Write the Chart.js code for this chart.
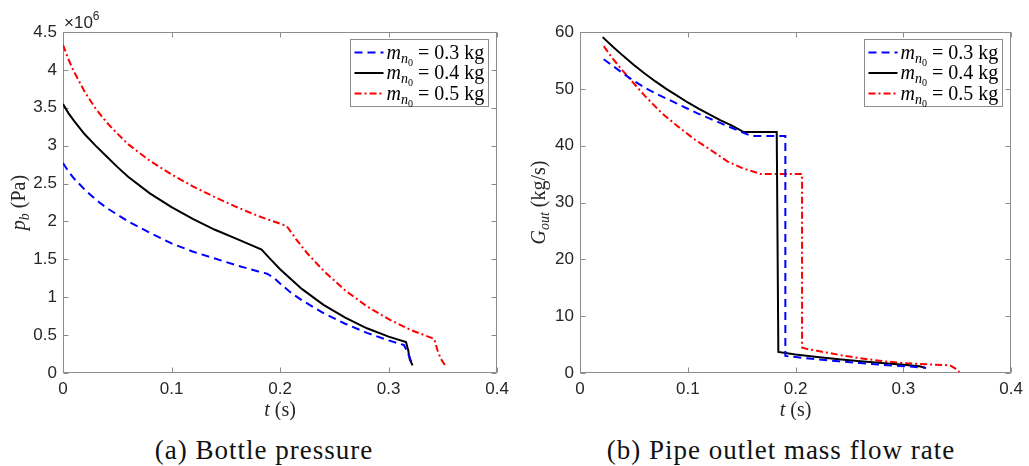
<!DOCTYPE html>
<html>
<head>
<meta charset="utf-8">
<script src="https://cdn.jsdelivr.net/npm/chart.js@4.4.1/dist/chart.umd.min.js"></script>
<style>
  body { margin: 0; background: #fff; width: 1029px; height: 466px; position: relative; overflow: hidden; }
  canvas { position: absolute; top: 0; }
  #c1 { left: 0; }
  #c2 { left: 520px; }
  .cap { position: absolute; top: 435px; line-height: 30px; font-family: "Liberation Serif", "Times New Roman", serif;
         font-size: 27px; letter-spacing: 1px; color: #111; white-space: nowrap; transform: translateX(-50%); }
</style>
</head>
<body>
<canvas id="c1" width="515" height="420"></canvas>
<canvas id="c2" width="509" height="420"></canvas>
<div class="cap" style="left:264px">(a) Bottle pressure</div>
<div class="cap" style="left:781px">(b) Pipe outlet mass flow rate</div>
<script>
// masses in the legend
const masses = ['0.3', '0.4', '0.5'];

// (a) bottle pressure, time (s) and p_b in units of 1e6 Pa
const pT03 = [0, 0.005, 0.01, 0.02, 0.03, 0.04, 0.05, 0.06, 0.08, 0.10, 0.12, 0.14, 0.16, 0.18, 0.188, 0.194, 0.20, 0.21, 0.22, 0.24, 0.26, 0.28, 0.30, 0.314, 0.317, 0.320, 0.323];
const pP03 = [2.77, 2.66, 2.57, 2.42, 2.29, 2.18, 2.09, 2.00, 1.85, 1.71, 1.60, 1.51, 1.42, 1.34, 1.31, 1.26, 1.18, 1.06, 0.96, 0.79, 0.65, 0.53, 0.43, 0.37, 0.29, 0.18, 0.10];

const pT04 = [0, 0.005, 0.01, 0.02, 0.03, 0.04, 0.05, 0.06, 0.08, 0.10, 0.12, 0.14, 0.16, 0.183, 0.19, 0.20, 0.22, 0.24, 0.26, 0.28, 0.30, 0.316, 0.318, 0.3195, 0.322];
const pP04 = [3.55, 3.43, 3.33, 3.15, 3.00, 2.86, 2.72, 2.59, 2.37, 2.19, 2.03, 1.89, 1.77, 1.63, 1.52, 1.37, 1.11, 0.90, 0.73, 0.59, 0.48, 0.41, 0.30, 0.18, 0.10];

const pT05 = [0, 0.005, 0.01, 0.02, 0.03, 0.04, 0.05, 0.06, 0.08, 0.10, 0.12, 0.14, 0.16, 0.18, 0.206, 0.215, 0.225, 0.24, 0.26, 0.28, 0.30, 0.32, 0.342, 0.345, 0.348, 0.352];
const pP05 = [4.33, 4.14, 3.98, 3.71, 3.49, 3.31, 3.16, 3.02, 2.80, 2.62, 2.46, 2.32, 2.19, 2.07, 1.94, 1.76, 1.58, 1.35, 1.09, 0.88, 0.71, 0.57, 0.45, 0.30, 0.19, 0.10];

// (b) pipe outlet mass flow rate G_out (kg/s)
const gT03 = [0.022, 0.03, 0.04, 0.05, 0.06, 0.07, 0.08, 0.09, 0.10, 0.11, 0.12, 0.13, 0.14, 0.15, 0.159, 0.1905, 0.1905, 0.20, 0.22, 0.24, 0.26, 0.28, 0.30, 0.32];
const gG03 = [55.2, 54.1, 52.7, 51.4, 50.2, 49.2, 48.3, 47.4, 46.5, 45.6, 44.8, 44.0, 43.2, 42.4, 41.7, 41.7, 3.0, 2.8, 2.4, 2.05, 1.75, 1.45, 1.2, 0.95];

const gT04 = [0.021, 0.03, 0.04, 0.05, 0.06, 0.07, 0.08, 0.09, 0.10, 0.11, 0.12, 0.13, 0.14, 0.152, 0.1825, 0.184, 0.20, 0.22, 0.24, 0.26, 0.28, 0.30, 0.315, 0.321];
const gG04 = [59.1, 57.5, 55.8, 54.2, 52.7, 51.3, 50.0, 48.8, 47.6, 46.5, 45.5, 44.5, 43.6, 42.4, 42.4, 3.7, 3.25, 2.8, 2.4, 2.05, 1.75, 1.45, 1.2, 0.85];

const gT05 = [0.022, 0.03, 0.04, 0.046, 0.06, 0.076, 0.09, 0.107, 0.12, 0.137, 0.15, 0.168, 0.206, 0.206, 0.21, 0.22, 0.23, 0.24, 0.25, 0.26, 0.28, 0.30, 0.32, 0.343, 0.348, 0.352];
const gG05 = [57.5, 55.4, 53.1, 51.8, 48.8, 45.7, 43.5, 41.0, 39.4, 37.2, 36.1, 35.0, 35.0, 4.5, 4.25, 3.9, 3.55, 3.2, 2.9, 2.6, 2.1, 1.75, 1.55, 1.35, 0.8, 0.2];

const colors = ['#0000ff', '#000000', '#ff0000'];
const dashes = [[8, 5], [], [7, 3, 2, 3]];

const serif = '"Liberation Serif", "Times New Roman", serif';
const sans = '"Liberation Sans", Arial, Helvetica, sans-serif';

function pts(t, v) {
  return t.map((x, i) => ({ x: x, y: v[i] }));
}

// text with sub/superscripts: parts = [text, font, dy]
function rich(ctx, parts, x, y, align) {
  let w = 0;
  parts.forEach(p => { ctx.font = p[1]; w += ctx.measureText(p[0]).width; });
  let cx = align === 'center' ? x - w / 2 : x;
  ctx.textAlign = 'left';
  ctx.textBaseline = 'alphabetic';
  parts.forEach(p => {
    ctx.font = p[1];
    ctx.fillText(p[0], cx, y + (p[2] || 0));
    cx += ctx.measureText(p[0]).width;
  });
}

// box with inner ticks on all four sides
const frame = {
  id: 'frame',
  beforeDatasetsDraw(chart) {
    const { ctx, chartArea: a, scales } = chart;
    const L = Math.round(a.left) + 0.5, R = Math.round(a.right) - 0.5;
    const T = Math.round(a.top) + 0.5, B = Math.round(a.bottom) - 0.5;
    ctx.save();
    ctx.strokeStyle = '#8c8c8c';
    ctx.lineWidth = 1;
    ctx.strokeRect(L, T, R - L, B - T);
    ctx.beginPath();
    scales.x.ticks.forEach(t => {
      const px = Math.round(scales.x.getPixelForValue(t.value)) + 0.5;
      ctx.moveTo(px, B); ctx.lineTo(px, B - 5);
      ctx.moveTo(px, T); ctx.lineTo(px, T + 5);
    });
    scales.y.ticks.forEach(t => {
      const py = Math.round(scales.y.getPixelForValue(t.value)) + 0.5;
      ctx.moveTo(L, py); ctx.lineTo(L + 5, py);
      ctx.moveTo(R, py); ctx.lineTo(R - 5, py);
    });
    ctx.stroke();
    ctx.restore();
  }
};

// axis titles, exponent and legend
const extras = {
  id: 'extras',
  afterDraw(chart, args, opts) {
    const { ctx, chartArea: a } = chart;
    ctx.save();
    ctx.fillStyle = '#262626';
    rich(ctx, [['t', 'italic 20px ' + serif], [' (s)', '20px ' + serif]], (a.left + a.right) / 2, 416, 'center');
    ctx.save();
    ctx.translate(25, (a.top + a.bottom) / 2);
    ctx.rotate(-Math.PI / 2);
    rich(ctx, opts.yTitle, 0, 0, 'center');
    ctx.restore();
    if (opts.expo) {
      rich(ctx, [['\u00d710', '17px ' + sans], ['6', '12px ' + sans, -8]], a.left + 1, 28, 'left');
    }
    // legend
    const bx = Math.round(a.right) - 146.5, by = 39.5, bw = 138, bh = 67;
    ctx.fillStyle = '#fff';
    ctx.fillRect(bx, by, bw, bh);
    ctx.strokeStyle = '#8c8c8c';
    ctx.lineWidth = 1;
    ctx.strokeRect(bx, by, bw, bh);
    masses.forEach((m, i) => {
      const cy = by + 13 + i * 20.5;
      ctx.beginPath();
      ctx.setLineDash(dashes[i]);
      ctx.strokeStyle = colors[i];
      ctx.lineWidth = 2;
      ctx.moveTo(bx + 4, cy);
      ctx.lineTo(bx + 33, cy);
      ctx.stroke();
      ctx.setLineDash([]);
      ctx.fillStyle = '#000';
      rich(ctx, [
        ['m', 'italic 20px ' + serif],
        ['n', 'italic 14px ' + serif, 4],
        ['0', '10px ' + serif, 7],
        [' = ' + m + ' kg', '20px ' + serif]
      ], bx + 36, cy + 6, 'left');
    });
    ctx.restore();
  }
};

function makeChart(id, series, yMax, yStep, yWidth, padRight, yTitle, expo) {
  const datasets = series.map((s, i) => ({
    label: masses[i],
    data: pts(s[0], s[1]),
    borderColor: colors[i],
    borderWidth: 2,
    borderDash: dashes[i],
    pointRadius: 0,
    tension: 0,
    fill: false
  }));
  const tickFont = { family: sans, size: 17 };
  return new Chart(document.getElementById(id), {
    type: 'line',
    data: { datasets: datasets },
    options: {
      responsive: false,
      animation: false,
      layout: { padding: { top: 32, right: padRight, left: 0, bottom: 0 } },
      plugins: {
        legend: { display: false },
        tooltip: { enabled: false },
        extras: { yTitle: yTitle, expo: expo }
      },
      scales: {
        x: {
          type: 'linear', min: 0, max: 0.4,
          grid: { display: false, drawTicks: false },
          border: { display: false },
          ticks: { stepSize: 0.1, autoSkip: false, maxRotation: 0, color: '#262626', font: tickFont, padding: 6,
                   callback: v => String(+v.toFixed(1)) },
          afterFit: s => { s.height = 47; }
        },
        y: {
          type: 'linear', min: 0, max: yMax,
          grid: { display: false, drawTicks: false },
          border: { display: false },
          ticks: { stepSize: yStep, autoSkip: false, color: '#262626', font: tickFont, padding: 6,
                   callback: v => String(+v.toFixed(1)) },
          afterFit: s => { s.width = yWidth; }
        }
      }
    },
    plugins: [frame, extras]
  });
}

makeChart('c1', [[pT03, pP03], [pT04, pP04], [pT05, pP05]], 4.5, 0.5, 63, 15,
  [['p', 'italic 20px ' + serif], ['b', 'italic 14px ' + serif, 4], [' (Pa)', '20px ' + serif]], true);

makeChart('c2', [[gT03, gG03], [gT04, gG04], [gT05, gG05]], 60, 10, 60, 12,
  [['G', 'italic 20px ' + serif], ['out', 'italic 14px ' + serif, 4], [' (kg/s)', '20px ' + serif]], false);
</script>
</body>
</html>
